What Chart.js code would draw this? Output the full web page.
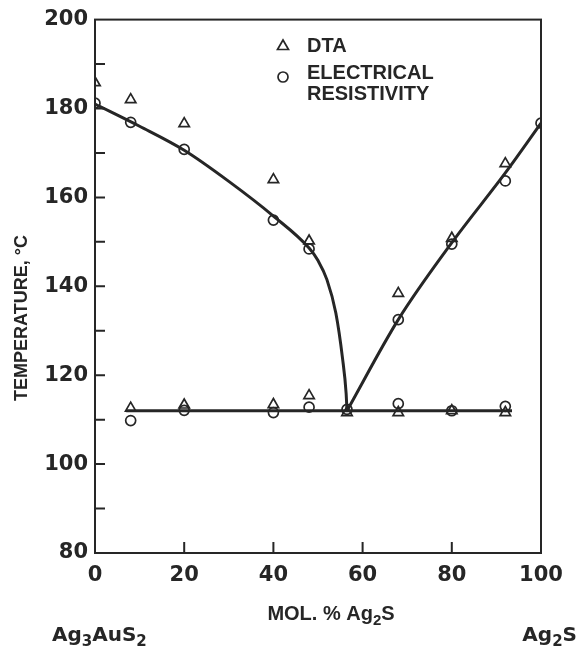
<!DOCTYPE html>
<html>
<head>
<meta charset="utf-8">
<script src="https://cdn.jsdelivr.net/npm/chart.js@4.4.0/dist/chart.umd.min.js"></script>
<style>
  html, body { margin: 0; padding: 0; background: #fff; }
  canvas { display: block; }
</style>
</head>
<body>
<canvas id="phase" width="578" height="649"></canvas>
<script>
// Ag3AuS2 - Ag2S phase diagram

// DTA points (triangles)
const dtaLiqX = [0, 8, 20, 40, 48, 68, 80, 92];
const dtaLiqT = [185.8, 182, 176.6, 164, 150.2, 138.4, 150.8, 167.6];
const dtaEutX = [8, 20, 40, 48, 56.5, 68, 80, 92];
const dtaEutT = [112.6, 113.3, 113.4, 115.4, 111.6, 111.6, 112, 111.6];

// electrical resistivity points (circles)
const resLiqX = [0, 8, 20, 40, 48, 68, 80, 92, 100];
const resLiqT = [181.2, 176.9, 170.8, 154.9, 148.4, 132.5, 149.5, 163.7, 176.7];
const resEutX = [8, 20, 40, 48, 56.5, 68, 80, 92];
const resEutT = [109.8, 112.1, 111.6, 112.8, 112.3, 113.6, 112, 113];

// drawn boundaries
const leftLiqX = [0, 10, 20, 30, 40, 48, 50, 52, 54, 55.5, 56.3, 56.5];
const leftLiqT = [181, 176, 170.6, 163.6, 155.8, 148.6, 145.8, 141.5, 134, 123.8, 116, 112];
const rightLiqX = [56.5, 68, 80, 92, 100];
const rightLiqT = [112, 132.5, 149.8, 165.5, 176.7];
const eutX = [7, 93.5];
const eutT = [112, 112];

// axes
const xTicks = [0, 20, 40, 60, 80, 100];
const yTicks = [80, 100, 120, 140, 160, 180, 200];

const INK = '#262626';
const NUM_FONT = 'DejaVu Sans';
const TXT_FONT = 'Liberation Sans';

const pts = (xs, ys) => xs.map((x, i) => ({ x, y: ys[i] }));

function curve(xs, ys) {
  return {
    data: pts(xs, ys),
    showLine: true,
    borderColor: INK,
    borderWidth: 3,
    pointRadius: 0,
    cubicInterpolationMode: 'monotone',
    fill: false
  };
}

function marks(xs, ys, style, r) {
  return {
    data: pts(xs, ys),
    showLine: false,
    pointStyle: style,
    pointRadius: r,
    pointBorderColor: INK,
    pointBackgroundColor: 'rgba(0,0,0,0)',
    pointBorderWidth: 1.7
  };
}

// text with subscripts: parts like ['Ag', ['3'], 'AuS', ['2']]
function drawRich(ctx, parts, x, y, size, family, align) {
  const font = s => 'bold ' + s + 'px "' + family + '"';
  const subSize = Math.round(size * 0.75);
  let w = 0;
  parts.forEach(p => {
    const sub = Array.isArray(p);
    ctx.font = font(sub ? subSize : size);
    w += ctx.measureText(sub ? p[0] : p).width;
  });
  let cx = x;
  if (align === 'center') cx = x - w / 2;
  if (align === 'right') cx = x - w;
  ctx.textAlign = 'left';
  ctx.textBaseline = 'alphabetic';
  parts.forEach(p => {
    const sub = Array.isArray(p);
    ctx.font = font(sub ? subSize : size);
    const t = sub ? p[0] : p;
    ctx.fillText(t, cx, sub ? y + size * 0.25 : y);
    cx += ctx.measureText(t).width;
  });
}

const framePlugin = {
  id: 'frame',
  beforeDatasetsDraw(chart) {
    const { ctx, chartArea: a, scales: { x, y } } = chart;
    ctx.save();
    ctx.strokeStyle = INK;
    ctx.lineWidth = 2;
    ctx.strokeRect(a.left, a.top, a.right - a.left, a.bottom - a.top);
    ctx.beginPath();
    y.ticks.forEach(t => {
      if (t.value <= y.min || t.value >= y.max) return;
      const py = y.getPixelForValue(t.value);
      ctx.moveTo(a.left, py);
      ctx.lineTo(a.left + 10, py);
    });
    x.ticks.forEach(t => {
      if (t.value <= x.min || t.value >= x.max) return;
      const px = x.getPixelForValue(t.value);
      ctx.moveTo(px, a.bottom);
      ctx.lineTo(px, a.bottom - 11);
    });
    ctx.stroke();
    ctx.restore();
  },
  afterDraw(chart) {
    const { ctx } = chart;
    ctx.save();
    ctx.fillStyle = INK;
    ctx.strokeStyle = INK;

    // legend
    ctx.lineWidth = 1.7;
    const lx = 283;
    ctx.beginPath();
    ctx.moveTo(lx, 40);
    ctx.lineTo(lx + 5.5, 49.5);
    ctx.lineTo(lx - 5.5, 49.5);
    ctx.closePath();
    ctx.stroke();
    ctx.beginPath();
    ctx.arc(lx, 77, 5, 0, Math.PI * 2);
    ctx.stroke();
    ctx.font = 'bold 20px "' + TXT_FONT + '"';
    ctx.textAlign = 'left';
    ctx.textBaseline = 'middle';
    ctx.fillText('DTA', 307, 46);
    ctx.fillText('ELECTRICAL', 307, 73);
    ctx.fillText('RESISTIVITY', 307, 94);

    // axis titles
    drawRich(ctx, ['MOL. % Ag', ['2'], 'S'], 331, 620, 20, TXT_FONT, 'center');
    drawRich(ctx, ['Ag', ['3'], 'AuS', ['2']], 52, 641, 20, NUM_FONT, 'left');
    drawRich(ctx, ['Ag', ['2'], 'S'], 577, 641, 20, NUM_FONT, 'right');

    ctx.translate(22, 318);
    ctx.rotate(-Math.PI / 2);
    ctx.font = 'bold 18px "' + TXT_FONT + '"';
    ctx.textAlign = 'center';
    ctx.textBaseline = 'middle';
    ctx.fillText('TEMPERATURE, °C', 0, 0);
    ctx.restore();
  }
};

new Chart(document.getElementById('phase'), {
  type: 'scatter',
  data: {
    datasets: [
      curve(leftLiqX, leftLiqT),
      curve(rightLiqX, rightLiqT),
      curve(eutX, eutT),
      marks(dtaLiqX, dtaLiqT, 'triangle', 6),
      marks(dtaEutX, dtaEutT, 'triangle', 6),
      marks(resLiqX, resLiqT, 'circle', 5),
      marks(resEutX, resEutT, 'circle', 5)
    ]
  },
  options: {
    responsive: false,
    animation: false,
    layout: { padding: { top: 18, right: 37, left: 0, bottom: 0 } },
    plugins: { legend: { display: false }, tooltip: { enabled: false } },
    scales: {
      x: {
        type: 'linear',
        min: 0, max: 100,
        afterFit: s => { s.height = 96; },
        afterBuildTicks: s => { s.ticks = xTicks.map(v => ({ value: v })); },
        grid: { display: false, drawTicks: false },
        border: { display: false },
        ticks: { color: INK, padding: 10, font: { family: NUM_FONT, size: 21, weight: 'bold' } }
      },
      y: {
        type: 'linear',
        min: 80, max: 200,
        afterFit: s => { s.width = 95; },
        afterBuildTicks: s => {
          const t = [];
          for (let v = 80; v <= 200; v += 10) t.push({ value: v });
          s.ticks = t;
        },
        grid: { display: false, drawTicks: false },
        border: { display: false },
        ticks: {
          color: INK, padding: 7,
          font: { family: NUM_FONT, size: 21, weight: 'bold' },
          callback: v => (yTicks.includes(v) ? String(v) : '')
        }
      }
    }
  },
  plugins: [framePlugin]
});
</script>
</body>
</html>
